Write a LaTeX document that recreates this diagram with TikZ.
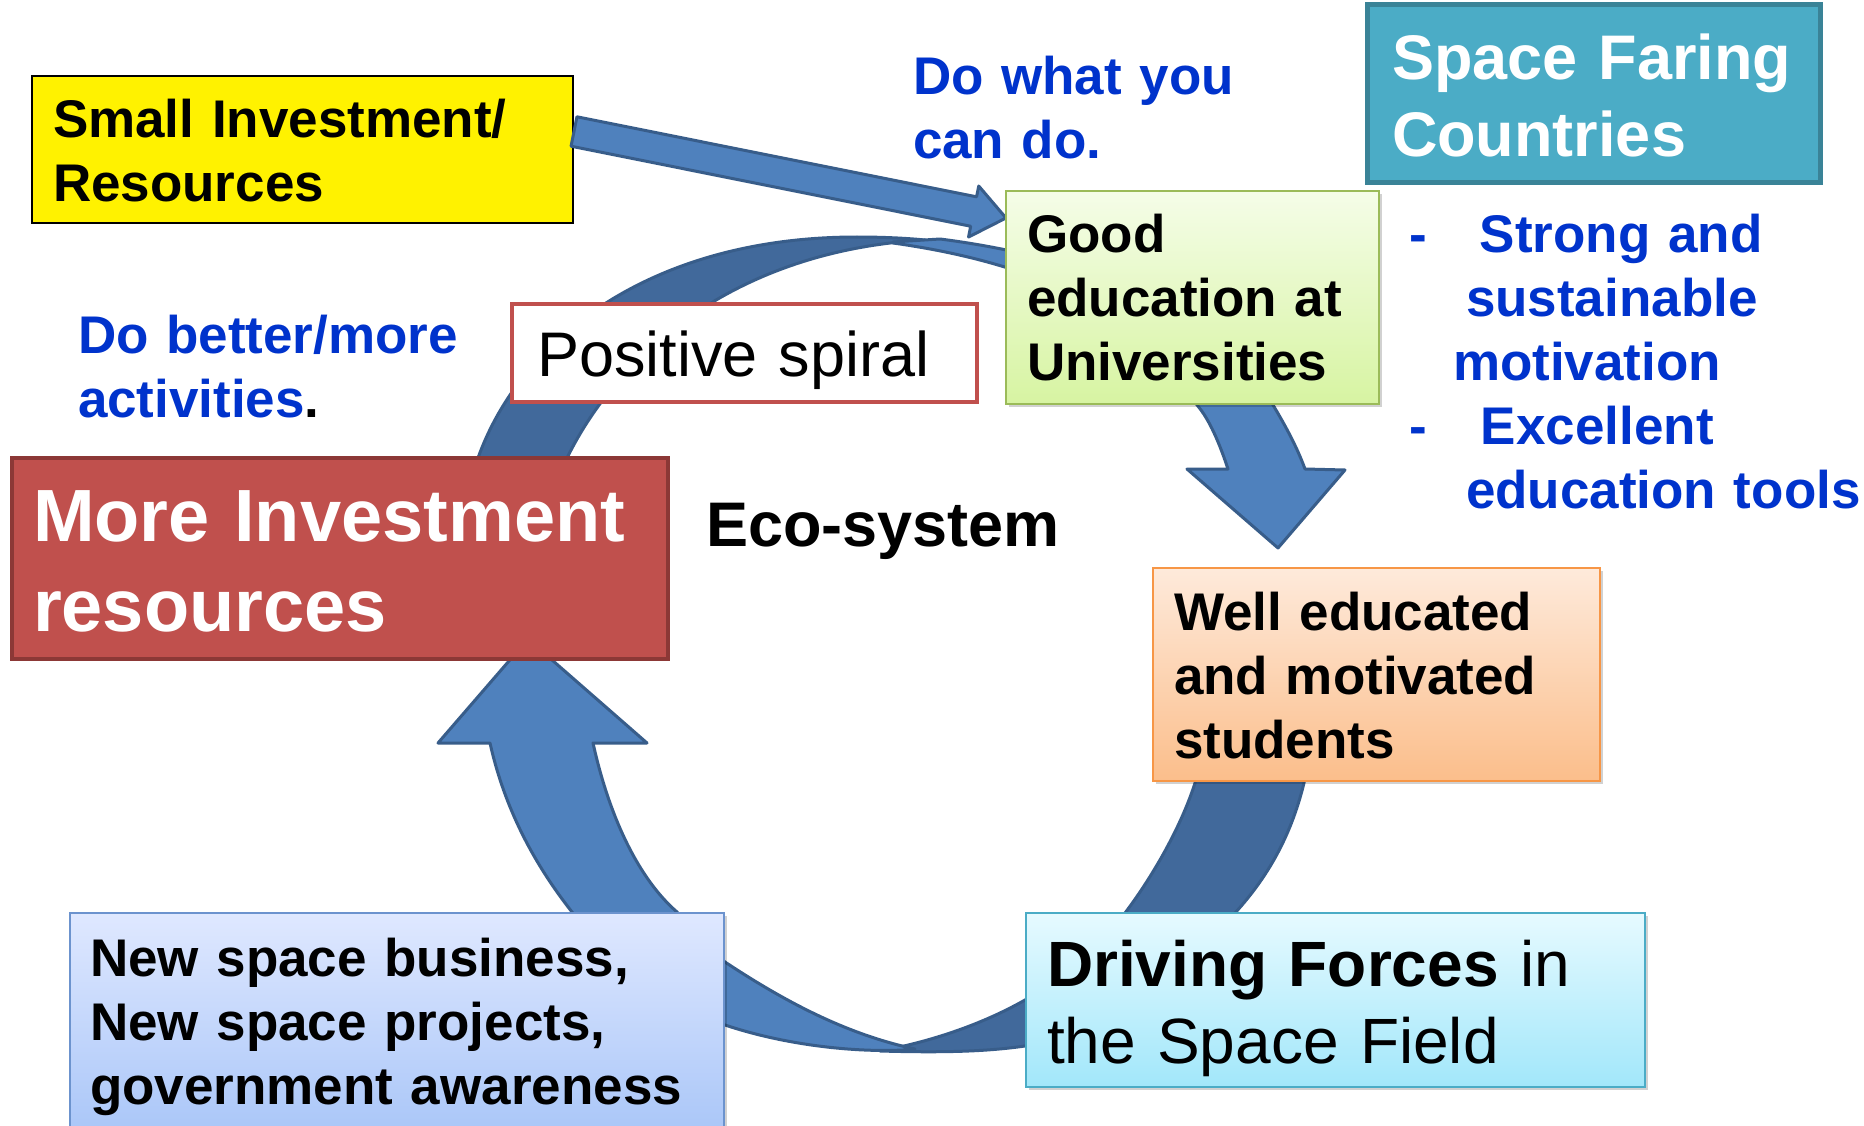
\documentclass[tikz,border=0pt]{standalone}
\usepackage{fontspec}
\setmainfont{Liberation Sans}
\usetikzlibrary{calc,shadows}
\definecolor{ringfill}{HTML}{4F81BD}
\definecolor{ringdark}{HTML}{41699B}
\definecolor{ringline}{HTML}{385D8A}
\definecolor{txtblue}{HTML}{0033CC}
\definecolor{redfill}{HTML}{C0504D}
\definecolor{redline}{HTML}{8C3836}
\definecolor{tealfill}{HTML}{4BACC6}
\definecolor{tealline}{HTML}{3A8397}
\definecolor{greenline}{HTML}{9BBB59}
\definecolor{greentop}{HTML}{F5FDE8}
\definecolor{greenbot}{HTML}{D7F4A2}
\definecolor{orangeline}{HTML}{F79646}
\definecolor{orangetop}{HTML}{FEEADB}
\definecolor{orangebot}{HTML}{FBBE8B}
\definecolor{cyanline}{HTML}{4BACC6}
\definecolor{cyantop}{HTML}{E6FAFF}
\definecolor{cyanbot}{HTML}{A2E7FA}
\definecolor{bluetop}{HTML}{DFE8FF}
\definecolor{bluebot}{HTML}{ABC7F8}
\definecolor{blueline}{HTML}{6C93CE}
\begin{document}
\begin{tikzpicture}[x=1pt,y=-1pt,
  box/.style={rectangle, inner sep=0pt, outer sep=0pt, anchor=north west},
  softshadow/.style={drop shadow={shadow xshift=3pt,shadow yshift=-3pt,opacity=0.18,fill=black}},
  txt/.style={anchor=base west, inner sep=0pt, outer sep=0pt, align=left},
  fbody/.style={font=\fontsize{53pt}{64pt}\selectfont\bfseries},
  fbig/.style={font=\fontsize{63pt}{77pt}\selectfont\bfseries},
  fhuge/.style={font=\fontsize{74pt}{90pt}\selectfont\bfseries},
  ringfront/.style={fill=ringfill, draw=ringline, line width=3pt, line join=round},
  ringback/.style={fill=ringdark, draw=ringline, line width=3pt, line join=round},
  blockarrow/.style={fill=ringfill, draw=ringline, line width=3pt, line join=round}
]
\useasboundingbox (0,0) rectangle (1864,1126);
\fill[white] (0,0) rectangle (1864,1126);

% ---- ring: top curved arrow (back part, then front part)
\draw[ringback] (466,500) -- (478,458) .. controls (520,340) and (650,237) .. (857,237)
  .. controls (880,237) and (905,238) .. (925,240)
  .. controls (740,250) and (620,350) .. (567,458) -- (556,500) -- cycle;
\draw[ringfront] (893,242) -- (940,239) .. controls (1120,262) and (1240,330) .. (1273,405)
  .. controls (1285,425) and (1297,447) .. (1305,469) -- (1345,470) -- (1278,548)
  -- (1187,469) -- (1228,469) .. controls (1220,445) and (1210,420) .. (1197,405)
  .. controls (1150,320) and (1050,265) .. (893,243) -- cycle;

% ---- ring: bottom curved arrow (back part, then front part)
\draw[ringback] (1310,750) -- (1304,783) .. controls (1290,840) and (1265,880) .. (1235,913)
  .. controls (1180,985) and (1100,1035) .. (1025,1046)
  .. controls (990,1051) and (950,1053) .. (880,1051)
  .. controls (940,1040) and (990,1020) .. (1025,1000)
  .. controls (1070,975) and (1100,945) .. (1125,913)
  .. controls (1150,880) and (1180,830) .. (1195,783) -- (1200,750) -- cycle;
\draw[ringfront] (528,639) -- (647,743) -- (593,743) .. controls (610,820) and (640,880) .. (677,912)
  .. controls (695,935) and (710,950) .. (725,962)
  .. controls (790,1005) and (850,1035) .. (915,1049)
  .. controls (880,1053) and (800,1050) .. (725,1025)
  .. controls (650,995) and (600,950) .. (572,912)
  .. controls (535,865) and (505,810) .. (490,743) -- (438,743) -- cycle;

% ---- boxes
\node[box, fill=yellow, draw=black, line width=2.5pt, minimum width=541pt, minimum height=147pt] (small) at (32,76) {};
\node[txt, fbody, text width=520pt] (smallt) at (53,138) {Small Investment/\\Resources};

\node[box, fill=tealfill, draw=tealline, line width=5pt, minimum width=453pt, minimum height=178pt] (space) at (1367,5) {};
\node[txt, fbig, text width=430pt, text=white] (spacet) at (1392,80) {Space Faring\\Countries};

\node[box, fill=white, draw=redfill, line width=4pt, minimum width=465pt, minimum height=98pt] (positive) at (512,304) {};
\node[txt, font=\fontsize{63pt}{77pt}\selectfont, text width=430pt] (positivet) at (537,376) {Positive spiral};

\node[box, fill=redfill, draw=redline, line width=4.5pt, minimum width=656pt, minimum height=201pt] (more) at (12,458) {};
\node[txt, fhuge, text width=630pt, text=white] (moret) at (33,541) {More Investment\\resources};

\node[box, softshadow, top color=orangetop, bottom color=orangebot, draw=orangeline, line width=2.5pt, minimum width=447pt, minimum height=213pt] (well) at (1153,568) {};
\node[txt, fbody, text width=420pt] (wellt) at (1174,630) {Well educated\\and motivated\\students};

\node[box, softshadow, top color=cyantop, bottom color=cyanbot, draw=cyanline, line width=2.5pt, minimum width=619pt, minimum height=174pt] (drive) at (1026,913) {};
\node[txt, font=\fontsize{64pt}{77pt}\selectfont, text width=590pt] (drivet) at (1047,986) {{\bfseries Driving Forces} in\\the Space Field};

\node[box, softshadow, top color=bluetop, bottom color=bluebot, draw=blueline, line width=2.5pt, minimum width=654pt, minimum height=215pt] (newsp) at (70,913) {};
\node[txt, fbody, text width=630pt] (newspt) at (90,976) {New space business,\\New space projects,\\government awareness};

% ---- arrow from small investment to good education
\coordinate (sa) at ($(small.east)+(1,-18)$);
\coordinate (sb) at ($(small.east)!0!(small.east)+(433,68.5)$);
\coordinate (sh) at ($(sb)!33pt!(sa)$);
\draw[blockarrow] ($(sa)!15pt!90:(sb)$) -- ($(sh)!15pt!90:(sb)$) -- ($(sh)!26pt!90:(sb)$) -- (sb)
  -- ($(sh)!26pt!-90:(sb)$) -- ($(sh)!15pt!-90:(sb)$) -- ($(sa)!15pt!-90:(sb)$) -- cycle;

\node[box, softshadow, top color=greentop, bottom color=greenbot, draw=greenline, line width=2.5pt, minimum width=373pt, minimum height=213pt] (good) at (1006,191) {};
\node[txt, fbody, text width=350pt] (goodt) at (1027,253) {Good\\education at\\Universities};

% ---- free texts
\node[txt, fbody, text width=400pt, text=txtblue] (dowhat) at (913,95) {Do what you\\can do.};
\node[txt, fbody, text width=420pt, text=txtblue] (dobetter) at (78,353) {Do better/more\\activities\textcolor{black}{.}};
\node[txt, fbig] (eco) at (706,546) {Eco-system};
\node[txt, fbody, text width=455pt, text=txtblue] (strong) at (1409,253)
  {\makebox[0pt][l]{-}\hspace*{71pt}Strong and\\
   \hspace*{57pt}sustainable\\
   \hspace*{44pt}motivation\\
   \makebox[0pt][l]{-}\hspace*{72pt}Excellent\\
   \hspace*{57pt}education tools};
\end{tikzpicture}
\end{document}
